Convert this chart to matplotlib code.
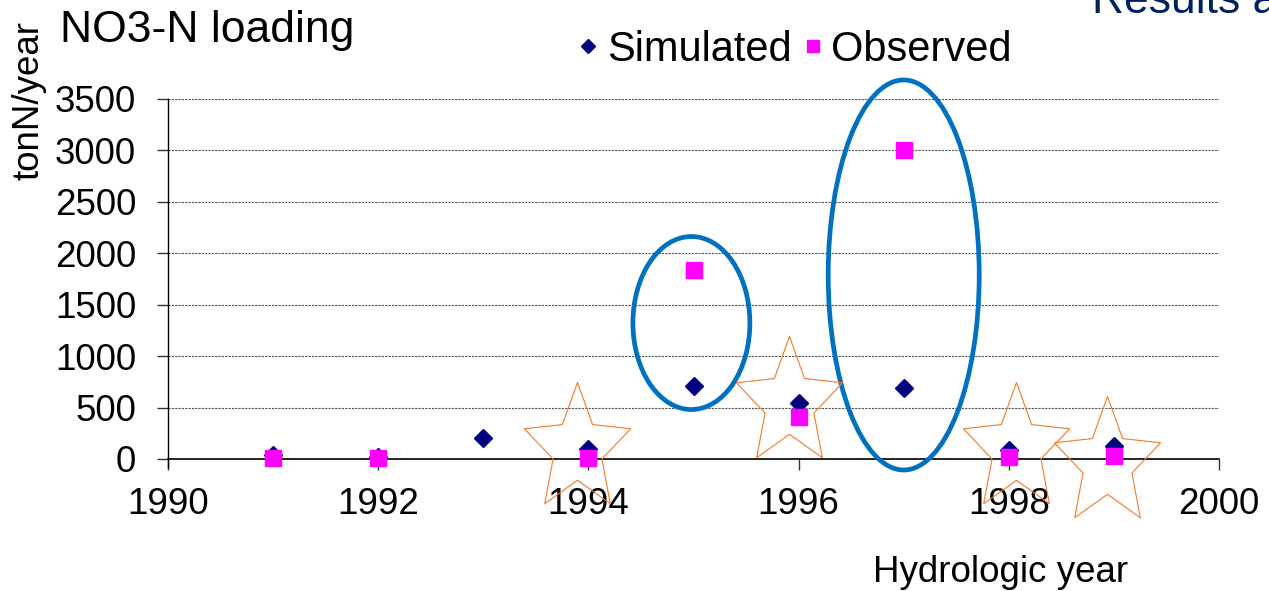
import numpy as np
import matplotlib
matplotlib.use("Agg")
import matplotlib.pyplot as plt
from matplotlib.patches import Ellipse
from matplotlib.path import Path

plt.rcParams["font.family"] = ["Liberation Sans", "DejaVu Sans"]

# Data
years = [1991, 1992, 1993, 1994, 1995, 1996, 1997, 1998, 1999]
simulated = [40, 20, 200, 95, 710, 545, 690, 90, 125]
obs_years = [1991, 1992, 1994, 1995, 1996, 1997, 1998, 1999]
observed = [5, 5, 10, 1840, 410, 3000, 20, 30]

# Annotation shapes (centres in data units)
ellipse_centers = [(1994.98, 1322), (1997.0, 1789)]
ellipse_sizes = [(1.113, 1682), (1.437, 3792)]
star_years = [1993.89, 1995.91, 1998.07, 1998.93]
star_values = [97, 544, 97, -39]

fig = plt.figure(figsize=(12.69, 5.91), dpi=100)
ax = fig.add_axes([168 / 1269, 1 - 459 / 591, (1219 - 168) / 1269, (459 - 99) / 591])

ax.set_xlim(1990, 2000)
ax.set_ylim(0, 3500)
ax.set_xticks(np.arange(1990, 2001, 2))
ax.set_yticks(np.arange(0, 3501, 500))
ax.tick_params(axis="both", labelsize=26.5, length=8, width=1, color="#333333")
ax.tick_params(axis="y", pad=15)
ax.tick_params(axis="x", pad=12)
for s in ["top", "right"]:
    ax.spines[s].set_visible(False)
ax.spines["left"].set_bounds(-75, 3500)
ax.spines["left"].set_linewidth(1)
ax.spines["bottom"].set_linewidth(1.2)
ax.yaxis.grid(True, linestyle=(0, (2, 1)), color="#555555", linewidth=0.8)
ax.set_axisbelow(True)

ax.plot(years, simulated, linestyle="none", marker="D", markersize=9.5,
        color="#000080", label="Simulated", clip_on=False, zorder=3)
ax.plot(obs_years, observed, linestyle="none", marker="s", markersize=11.5,
        color="#FF00FF", label="Observed", clip_on=False, zorder=4)

for (cx, cy), (w, h) in zip(ellipse_centers, ellipse_sizes):
    ax.add_patch(Ellipse((cx, cy), w, h, fill=False, edgecolor="#0070C0",
                         linewidth=3.4, clip_on=False, zorder=5))

ang = np.pi / 2 + np.arange(10) * np.pi / 5
rad = np.where(np.arange(10) % 2 == 0, 1.0, 0.46)
verts = np.column_stack([rad * np.cos(ang), 1.2 * rad * np.sin(ang)])
verts = np.vstack([verts, verts[:1]])
star = Path(verts, closed=True)
ax.plot(star_years, star_values, linestyle="none", marker=star, markersize=96.5,
        markerfacecolor="none", markeredgecolor="#F4792A", markeredgewidth=0.8,
        clip_on=False, zorder=6)

ax.legend(loc="center", bbox_to_anchor=(795 / 1269, 1 - 50 / 591),
          bbox_transform=fig.transFigure, ncol=2, frameon=False, fontsize=30,
          handlelength=0.5, handletextpad=0.2, columnspacing=0.25, markerscale=0.75,
          borderpad=0, borderaxespad=0)

fig.text(60 / 1269, 1 - 42 / 591, "NO3-N loading", fontsize=32, ha="left", va="baseline")
fig.text(29 / 1269, 1 - 101 / 591, "tonN/year", fontsize=26.5, rotation=90,
         ha="center", va="center")
fig.text(1001 / 1269, 1 - 572 / 591, "Hydrologic year", fontsize=26.5,
         ha="center", va="center")
fig.text(1092 / 1269, 1 - 13 / 591, "Results and", fontsize=32, color="#002060",
         ha="left", va="baseline")

fig.savefig("out.png", dpi=100)
